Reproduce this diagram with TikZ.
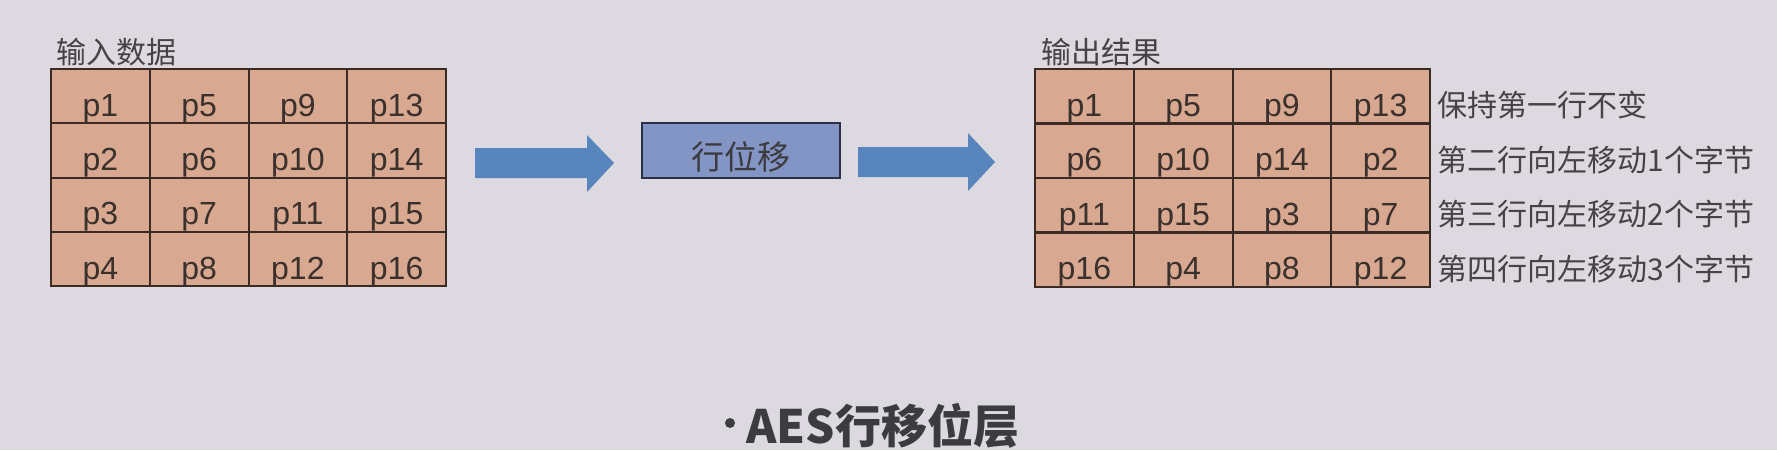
\documentclass[tikz,border=0pt]{standalone}
\usepackage{fontspec}
\setmainfont{Liberation Sans}
\newfontfamily\cjk{Noto Sans CJK SC}
\definecolor{bg}{HTML}{DCDAE0}
\definecolor{cellfill}{HTML}{D8A990}
\definecolor{cellline}{HTML}{3B2B25}
\definecolor{celltext}{HTML}{3A302C}
\definecolor{labeltext}{HTML}{454348}
\definecolor{arrowcol}{HTML}{5785BC}
\definecolor{boxfill}{HTML}{8395C4}
\definecolor{boxline}{HTML}{2A2F45}
\definecolor{titlecol}{HTML}{3C3B3F}
\begin{document}
\begin{tikzpicture}[x=0.5pt,y=-0.5pt,
  cell/.style={draw=cellline, line width=1pt, fill=cellfill, minimum width=49.375pt,
    inner sep=0pt, outer sep=0pt, text height=23.625pt, text depth=3.5pt,
    font=\fontsize{16}{16}\selectfont, text=celltext},
  rowlabel/.style={anchor=base west, inner sep=0pt, font=\cjk\fontsize{15}{15}\selectfont, text=labeltext},
  heading/.style={anchor=base west, inner sep=0pt, font=\cjk\fontsize{15}{15}\selectfont, text=labeltext},
  opbox/.style={draw=boxline, line width=1pt, fill=boxfill, minimum width=99pt,
    inner sep=0pt, text height=23.25pt, text depth=4.25pt,
    font=\cjk\fontsize{16.5}{16.5}\selectfont, text=titlecol},
  blockarrow/.style={fill=arrowcol}]
\fill[bg] (0,0) rectangle (1777,450);
\useasboundingbox (0,0) rectangle (1777,450);

% headings
\node[heading] (inhead) at (56,63) {输入数据};
\node[heading] (outhead) at (1041,63) {输出结果};

% input grid
\foreach \t [count=\k from 0] in {p1,p5,p9,p13,p2,p6,p10,p14,p3,p7,p11,p15,p4,p8,p12,p16}{
  \pgfmathtruncatemacro\r{\k/4}
  \pgfmathtruncatemacro\c{mod(\k,4)}
  \node[cell] (L\r\c) at ({51+98.75*(\c+0.5)},{69+54.25*(\r+0.5)}) {\t};
}
% output grid
\foreach \t [count=\k from 0] in {p1,p5,p9,p13,p6,p10,p14,p2,p11,p15,p3,p7,p16,p4,p8,p12}{
  \pgfmathtruncatemacro\r{\k/4}
  \pgfmathtruncatemacro\c{mod(\k,4)}
  \node[cell] (R\r\c) at ({1035+98.75*(\c+0.5)},{69+54.5*(\r+0.5)}) {\t};
}

% row labels
\node[rowlabel] (lab0) at (1437,116) {保持第一行不变};
\node[rowlabel] (lab1) at (1437,171) {第二行向左移动1个字节};
\node[rowlabel] (lab2) at (1437,225.5) {第三行向左移动2个字节};
\node[rowlabel] (lab3) at (1437,280) {第四行向左移动3个字节};

% operation box
\node[opbox] (op) at (741,150.5) {行位移};

% block arrows
\fill[blockarrow] (475,148) -- (587,148) -- (587,135) -- (614,163) -- (587,192) -- (587,178) -- (475,178) -- cycle;
\fill[blockarrow] (858,147) -- (968,147) -- (968,133) -- (995,162) -- (968,191) -- (968,177) -- (858,177) -- cycle;

% title
\node[circle, fill=titlecol, minimum size=5pt, inner sep=0pt] (dot) at (730,423) {};
\node[anchor=base west, inner sep=0pt, font=\cjk\bfseries\fontsize{23}{23}\selectfont, text=titlecol] (title) at (746,443) {AES行移位层};
\end{tikzpicture}
\end{document}
